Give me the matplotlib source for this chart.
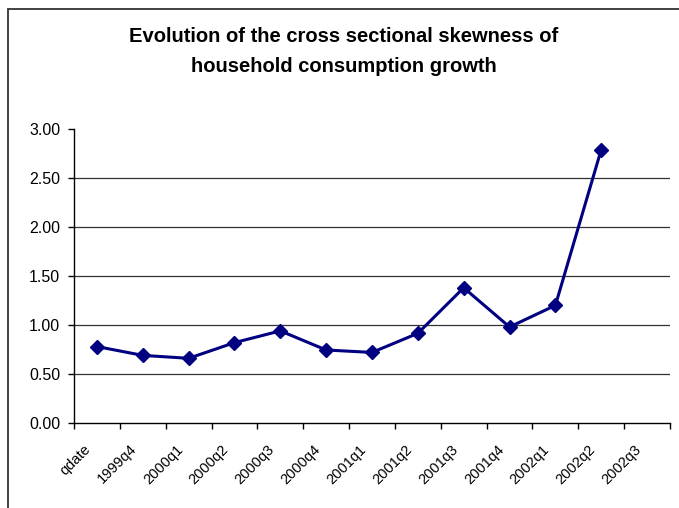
import matplotlib
matplotlib.use("Agg")
import matplotlib.pyplot as plt
import matplotlib.transforms as mtransforms
from matplotlib.patches import Rectangle

plt.rcParams['font.family'] = ['Liberation Sans', 'DejaVu Sans']

quarters = ["qdate", "1999q4", "2000q1", "2000q2", "2000q3", "2000q4",
            "2001q1", "2001q2", "2001q3", "2001q4", "2002q1", "2002q2",
            "2002q3"]
skewness = [0.78, 0.69, 0.66, 0.82, 0.94, 0.745, 0.72, 0.915, 1.38,
            0.98, 1.20, 2.79]

W, H = 679, 508
fig = plt.figure(figsize=(W / 100, H / 100), dpi=100)
ax = fig.add_axes([74 / W, 1 - 423 / H, 596 / W, 294 / H])

# chart area border (open to the right and bottom)
fig.add_artist(Rectangle((8 / W, -0.1), 1.0, 1 - 9 / H + 0.1,
                         transform=fig.transFigure, fill=False,
                         ec='#333333', lw=1.3))

fig.text(344 / W, 1 - 37 / H, "Evolution of the cross sectional skewness of",
         ha='center', va='center', fontsize=14.5, fontweight='bold')
fig.text(344 / W, 1 - 67 / H, "household consumption growth",
         ha='center', va='center', fontsize=14.5, fontweight='bold')

x = list(range(len(skewness)))
ax.plot(x, skewness, color='#000080', lw=2.2, marker='D', ms=7.5,
        mfc='#000080', mec='#000080', zorder=3)

ax.set_xlim(-0.5, len(quarters) - 0.5)
ax.set_ylim(0, 3)
ax.set_yticks([0, 0.5, 1.0, 1.5, 2.0, 2.5, 3.0])
ax.set_yticklabels(["%.2f" % v for v in ax.get_yticks()], fontsize=11.5)
for v in [0.5, 1.0, 1.5, 2.0, 2.5]:
    ax.axhline(v, color='#333333', lw=0.9, zorder=1)

# category labels: slanted, ending just left of each category centre
ax.set_xticks(range(len(quarters)))
ax.set_xticklabels([])
ax.tick_params(axis='x', which='major', length=0)
base = ax.get_xaxis_transform()
shift = mtransforms.ScaledTranslation(-0.13, -0.19, fig.dpi_scale_trans)
for i, q in enumerate(quarters):
    ax.text(i, 0, q, transform=base + shift, rotation=45, ha='right',
            va='top', rotation_mode='anchor', fontsize=10.5, clip_on=False)

ax.set_xticks([i - 0.5 for i in range(len(quarters) + 1)], minor=True)
ax.tick_params(axis='x', which='minor', length=4, width=1, direction='out')
ax.tick_params(axis='y', length=4, width=1, direction='out', pad=6)

for side in ['top', 'right']:
    ax.spines[side].set_visible(False)
for side in ['left', 'bottom']:
    ax.spines[side].set_color('black')
    ax.spines[side].set_linewidth(1)

fig.savefig("out.png", dpi=100)
